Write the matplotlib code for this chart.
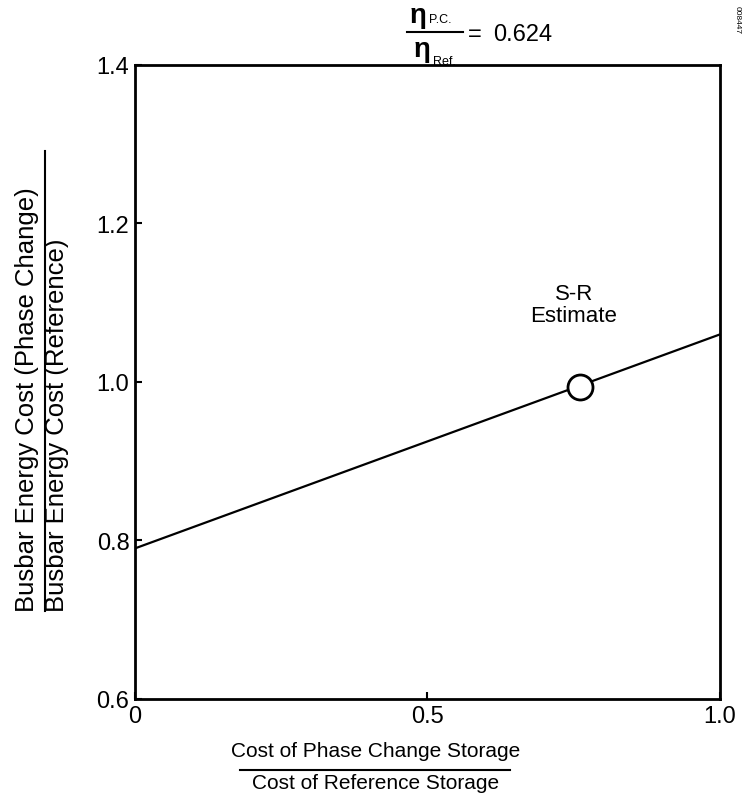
import numpy as np
import matplotlib.pyplot as plt
from matplotlib.lines import Line2D

plt.rcParams['font.family'] = ['Liberation Sans', 'DejaVu Sans']

# data
cost_ratio = [0.0, 1.0]
energy_ratio = [0.79, 1.06]
sr_x = [0.76]
sr_y = [0.993]
xticks = [0, 0.5, 1.0]
xticklabels = ['0', '0.5', '1.0']
yticks = [0.6, 0.8, 1.0, 1.2, 1.4]
yticklabels = ['0.6', '0.8', '1.0', '1.2', '1.4']

fig = plt.figure(figsize=(7.43, 8.04), dpi=100)
ax = fig.add_axes([0.1817, 0.1294, 0.7873, 0.7886])

ax.plot(cost_ratio, energy_ratio, color='black', lw=1.6)
ax.plot(sr_x, sr_y, 'o', ms=18, mfc='white', mec='black', mew=2)
ax.text(0.75, 1.07, 'S-R\nEstimate', ha='center', va='bottom', fontsize=16,
        linespacing=1.1)

ax.set_xlim(0, 1.0)
ax.set_ylim(0.6, 1.4)
ax.set_xticks(xticks)
ax.set_xticklabels(xticklabels, fontsize=17)
ax.set_yticks(yticks)
ax.set_yticklabels(yticklabels, fontsize=17)
ax.tick_params(direction='in', length=5, width=1.5, pad=4)
for s in ax.spines.values():
    s.set_linewidth(2)

# y label as a fraction
fig.text(0.036, 0.239, 'Busbar Energy Cost (Phase Change)', rotation=90,
         ha='center', va='bottom', fontsize=18.5)
fig.text(0.077, 0.239, 'Busbar Energy Cost (Reference)', rotation=90,
         ha='center', va='bottom', fontsize=18.5)
fig.add_artist(Line2D([0.0606, 0.0606], [0.239, 0.811], color='black', lw=1.5))

# x label as a fraction
fig.text(0.505, 0.0647, 'Cost of Phase Change Storage', ha='center', va='center',
         fontsize=15)
fig.text(0.505, 0.0249, 'Cost of Reference Storage', ha='center', va='center',
         fontsize=15)
fig.add_artist(Line2D([0.323, 0.686], [0.041, 0.041], color='black', lw=1.5))

# efficiency ratio on top
fig.text(0.5626, 0.980, 'η', ha='center', va='center', fontsize=20,
         fontweight='bold')
fig.text(0.577, 0.975, 'P.C.', ha='left', va='center', fontsize=9)
fig.text(0.568, 0.938, 'η', ha='center', va='center', fontsize=20,
         fontweight='bold')
fig.text(0.583, 0.923, 'Ref.', ha='left', va='center', fontsize=9)
fig.add_artist(Line2D([0.548, 0.623], [0.959, 0.959], color='black', lw=1.5))
fig.text(0.630, 0.956, '=', ha='left', va='center', fontsize=17)
fig.text(0.6635, 0.956, '0.624', ha='left', va='center', fontsize=17)

fig.text(0.992, 0.975, '008447', rotation=-90, ha='center', va='center', fontsize=6)

fig.savefig('out.png', dpi=100)
